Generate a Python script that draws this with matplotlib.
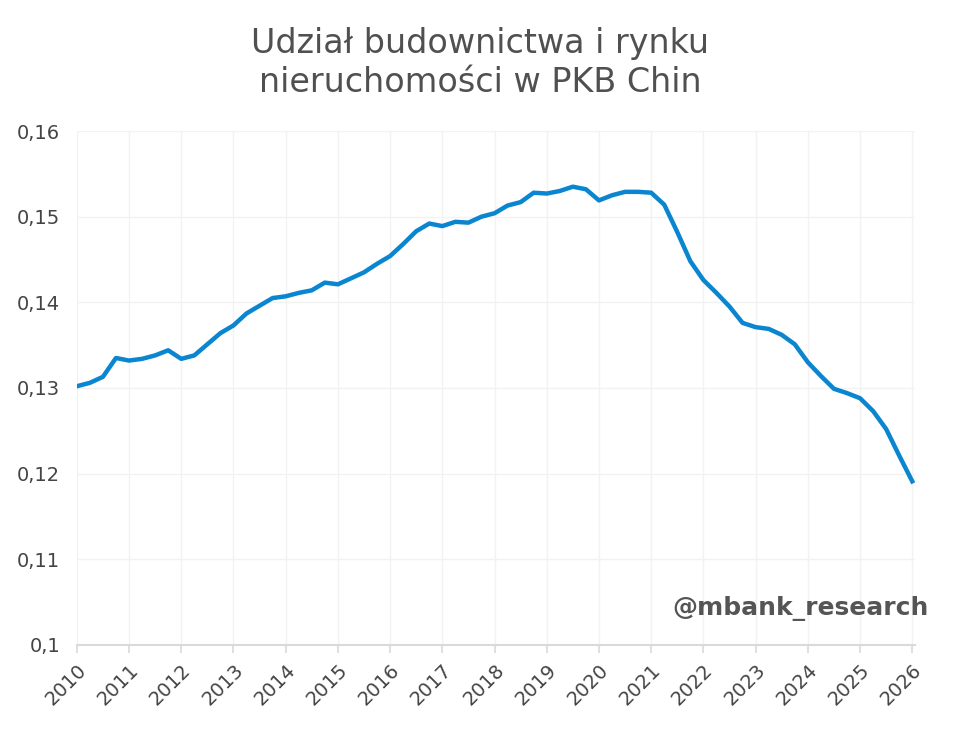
import matplotlib
matplotlib.use('Agg')
import matplotlib.pyplot as plt
from matplotlib.ticker import FuncFormatter

# quarterly share of construction + real estate in China's GDP, 2010Q1..2026Q1
start_year = 2010
share = [
  0.1302, 0.1306, 0.1313, 0.1335,
  0.1332, 0.1334, 0.1338, 0.1344,
  0.1334, 0.1338, 0.1351, 0.1364,
  0.1373, 0.1387, 0.1396, 0.1405,
  0.1407, 0.1411, 0.1414, 0.1423,
  0.1421, 0.1428, 0.1435, 0.1445,
  0.1454, 0.1468, 0.1483, 0.1492,
  0.1489, 0.1494, 0.1493, 0.1500,
  0.1504, 0.1513, 0.1517, 0.1528,
  0.1527, 0.1530, 0.1535, 0.1532,
  0.1519, 0.1525, 0.1529, 0.1529,
  0.1528, 0.1514, 0.1482, 0.1448,
  0.1426, 0.1411, 0.1395, 0.1376,
  0.1371, 0.1369, 0.1362, 0.1351,
  0.1330, 0.1314, 0.1299, 0.1294,
  0.1288, 0.1273, 0.1252, 0.1221,
  0.1191,
]
years = list(range(2010, 2027))
y_ticks = [0.10, 0.11, 0.12, 0.13, 0.14, 0.15, 0.16]

x = [start_year + i / 4 for i in range(len(share))]

text_color = '#444444'
plt.rcParams['font.family'] = ['DejaVu Sans']

fig = plt.figure(figsize=(9.6, 7.32), dpi=100)
ax = fig.add_axes([0.080, 0.119, 0.873, 0.702])

ax.plot(x, share, color='#0a85d0', linewidth=3.2, solid_joinstyle='round', zorder=3)

ax.set_xlim(2010, 2026.05)
ax.set_ylim(0.10, 0.16)
ax.set_xticks(years)
ax.set_xticklabels([str(y) for y in years], rotation=45, ha='right', rotation_mode='anchor')
ax.set_yticks(y_ticks)
ax.yaxis.set_major_formatter(FuncFormatter(lambda v, p: ('%g' % round(v, 2)).replace('.', ',')))

ax.grid(True, color='#f2f2f2', linewidth=1)
ax.set_axisbelow(True)
for s in ['top', 'right', 'left']:
  ax.spines[s].set_visible(False)
ax.spines['bottom'].set_color('#d9d9d9')
ax.spines['bottom'].set_linewidth(1.5)
ax.tick_params(axis='x', colors='#d9d9d9', length=6, width=1.2, labelcolor=text_color, labelsize=14, pad=5)
ax.tick_params(axis='y', length=0, labelcolor=text_color, labelsize=14, pad=12)

fig.text(0.5, 0.914, 'Udział budownictwa i rynku\nnieruchomości w PKB Chin', ha='center', va='center',
         fontsize=24, color='#505050', linespacing=1.2)
ax.text(1.016, 0.07, '@mbank_research', transform=ax.transAxes, ha='right', va='center',
        fontsize=18, fontweight='bold', color='#555555')

fig.savefig('out.png', dpi=100)
